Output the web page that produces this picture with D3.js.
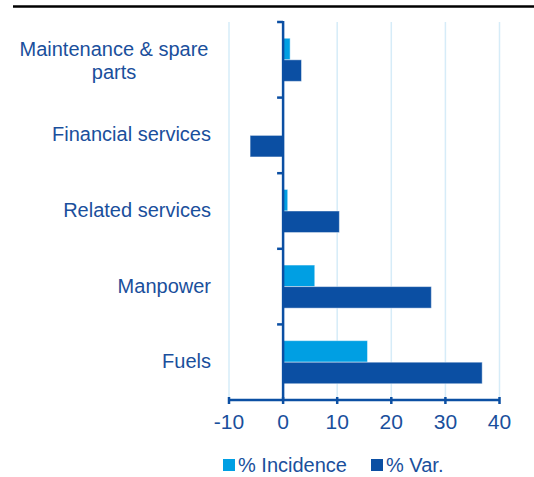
<!DOCTYPE html>
<html>
<head>
<meta charset="utf-8">
<script src="https://cdn.jsdelivr.net/npm/d3@7"></script>
<style>
  body { margin: 0; background: #fff; }
  text { font-family: "Liberation Sans", Arial, sans-serif; }
</style>
</head>
<body>
<svg id="chart"></svg>
<script>
const categories = ["Maintenance & spare parts", "Financial services", "Related services", "Manpower", "Fuels"];
const incidence = [1.3, 0, 0.85, 5.85, 15.6];
const variation = [3.4, -6.1, 10.4, 27.4, 36.8];
const seriesNames = ["% Incidence", "% Var."];
const xTicks = [-10, 0, 10, 20, 30, 40];

const width = 534;
const height = 477;
const textColor = "#1a4f9c";
const axisColor = "#0b4fa3";
const colors = ["#009fe3", "#0b4fa3"];

const svg = d3.select("#chart").attr("width", width).attr("height", height);

// top rule
svg.append("line")
  .attr("x1", 13).attr("x2", width)
  .attr("y1", 6.5).attr("y2", 6.5)
  .attr("stroke", "#000").attr("stroke-width", 2.5);

const x = d3.scaleLinear().domain([-10, 40]).range([229, 499.5]);
const y = d3.scaleBand().domain(categories).range([22, 400]).paddingInner(0.43).paddingOuter(0.215);
const inner = d3.scaleBand().domain(seriesNames).range([0, y.bandwidth()]);

const rows = categories.map((c, i) => ({ cat: c, vals: [incidence[i], variation[i]] }));

// grid
svg.append("g").selectAll("line")
  .data(xTicks.filter((d) => d !== 0))
  .join("line")
  .attr("x1", (d) => x(d)).attr("x2", (d) => x(d))
  .attr("y1", 22).attr("y2", 400)
  .attr("stroke", "#d6ecf8").attr("stroke-width", 1.5);

// bars
const groups = svg.append("g").selectAll("g")
  .data(rows)
  .join("g")
  .attr("transform", (d) => `translate(0,${y(d.cat)})`);

groups.selectAll("rect")
  .data((d) => d.vals.map((v, i) => ({ key: seriesNames[i], v, i })))
  .join("rect")
  .attr("x", (d) => x(Math.min(0, d.v)))
  .attr("width", (d) => Math.abs(x(d.v) - x(0)))
  .attr("y", (d) => inner(d.key))
  .attr("height", inner.bandwidth())
  .attr("fill", (d) => colors[d.i])
  .attr("stroke", "#fff")
  .attr("stroke-opacity", 0.45)
  .attr("stroke-width", 1);

// y axis
const yAxis = svg.append("g");
yAxis.append("line")
  .attr("x1", x(0)).attr("x2", x(0))
  .attr("y1", 21).attr("y2", 400)
  .attr("stroke", axisColor).attr("stroke-width", 2.5);
const boundaries = [22].concat(categories.slice(1).map((c) => y(c) - (y.step() - y.bandwidth()) / 2));
yAxis.selectAll(".ytick")
  .data(boundaries)
  .join("line")
  .attr("class", "ytick")
  .attr("x1", x(0) - 6).attr("x2", x(0))
  .attr("y1", (d) => d).attr("y2", (d) => d)
  .attr("stroke", axisColor).attr("stroke-width", 2.5);

// category labels
yAxis.selectAll(".ylab")
  .data(rows)
  .join("text")
  .attr("class", "ylab")
  .attr("fill", textColor)
  .attr("font-size", "20px")
  .each(function (d) {
    const t = d3.select(this);
    const cy = y(d.cat) + y.bandwidth() / 2;
    if (d.cat === "Maintenance & spare parts") {
      t.attr("text-anchor", "middle");
      t.append("tspan").attr("x", 114).attr("y", cy - 3.5).text("Maintenance & spare");
      t.append("tspan").attr("x", 114).attr("y", cy + 19).text("parts");
    } else {
      t.attr("text-anchor", "end").attr("x", 211).attr("y", cy + 6).text(d.cat);
    }
  });

// x axis
const xAxis = svg.append("g");
xAxis.append("line")
  .attr("x1", x(-10)).attr("x2", x(40))
  .attr("y1", 400).attr("y2", 400)
  .attr("stroke", axisColor).attr("stroke-width", 2.5);
xAxis.selectAll(".xtick")
  .data(xTicks)
  .join("line")
  .attr("class", "xtick")
  .attr("x1", (d) => x(d)).attr("x2", (d) => x(d))
  .attr("y1", 397).attr("y2", 404)
  .attr("stroke", axisColor).attr("stroke-width", 2.5);
xAxis.selectAll(".xlab")
  .data(xTicks)
  .join("text")
  .attr("class", "xlab")
  .attr("x", (d) => x(d))
  .attr("y", 429)
  .attr("text-anchor", "middle")
  .attr("fill", textColor)
  .attr("font-size", "21px")
  .text((d) => d);

// legend
const legendX = [223, 371];
const legend = svg.append("g").selectAll("g")
  .data(seriesNames)
  .join("g")
  .attr("transform", (d, i) => `translate(${legendX[i]},459)`);
legend.append("rect")
  .attr("width", 12).attr("height", 12)
  .attr("fill", (d, i) => colors[i]);
legend.append("text")
  .attr("x", 15).attr("y", 13)
  .attr("fill", textColor)
  .attr("font-size", "20px")
  .text((d) => d);
</script>
</body>
</html>
